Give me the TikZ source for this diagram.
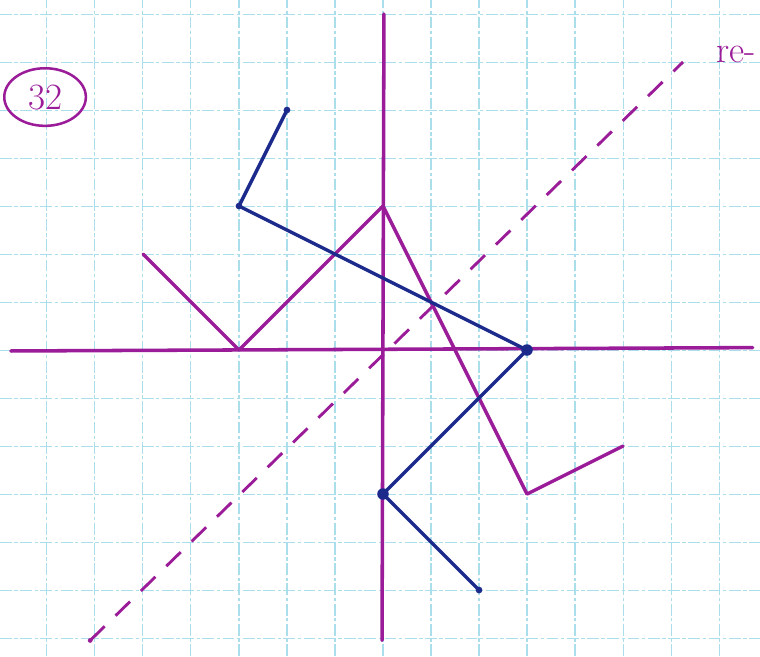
\documentclass[tikz,border=0pt]{standalone}
\usetikzlibrary{shapes.geometric}
\definecolor{pen}{HTML}{9A1C98}
\definecolor{ink}{HTML}{1C2A8C}
\definecolor{gridc}{HTML}{ABDEEB}
\begin{document}
\begin{tikzpicture}[x=1cm,y=1cm,
  gridline/.style={gridc, line width=0.6pt, dash pattern=on 7pt off 1.5pt on 2pt off 1.5pt},
  axis/.style={pen, line width=2.1pt, line cap=round},
  purp/.style={pen, line width=2pt, line cap=round, line join=round},
  blu/.style={ink, line width=2pt, line cap=round, line join=round},
  mirror/.style={pen, line width=1.7pt, dash pattern=on 12pt off 9pt},
  bigdot/.style={circle, fill=ink, inner sep=0pt, minimum size=0.24cm},
  smalldot/.style={circle, fill=ink, inner sep=0pt, minimum size=0.14cm}]
\useasboundingbox (-7.979,-6.375) rectangle (7.854,7.292);
% grid
\foreach \i in {-7,...,7} \draw[gridline] (\i,-6.375) -- (\i,7.292);
\foreach \j in {-6,...,7} \draw[gridline] (-7.979,\j) -- (7.854,\j);
% axes
\coordinate (xl) at (-7.75,-0.02);
\coordinate (xr) at (7.7,0.05);
\coordinate (yb) at (-0.02,-6.05);
\coordinate (yt) at (0.02,7.0);
\draw[axis] (xl) -- (xr);
\draw[axis] (yb) -- (yt);
% mirror line y = x
\coordinate (m1) at (-6.1,-6.05);
\coordinate (m2) at (6.25,6.0);
\draw[mirror] (m1) -- (m2);
\fill[pen] (m1) circle (0.05);
% purple figure
\coordinate (p1) at (-5,2);
\coordinate (p2) at (-3,0);
\coordinate (p3) at (0,3);
\coordinate (p4) at (3,-3);
\coordinate (p5) at (5,-2);
\draw[purp] (p1) -- (p2) -- (p3) -- (p4) -- (p5);
% blue image
\node[smalldot] (b1) at (-2,5) {};
\node[smalldot] (b2) at (-3,3) {};
\node[bigdot] (b3) at (3,0) {};
\node[bigdot] (b4) at (0,-3) {};
\node[smalldot] (b5) at (2,-5) {};
\draw[blu] (b1.center) -- (b2.center) -- (b3.center) -- (b4.center) -- (b5.center);
% labels
\node[ellipse, draw=pen, line width=1.5pt, text=pen, minimum width=1.7cm, minimum height=1.2cm, inner sep=0pt,
  font=\fontsize{22}{24}\selectfont] (num) at (-7.04,5.27) {32};
\node[anchor=base east, text=pen, inner sep=0pt, font=\fontsize{22}{24}\selectfont] (re) at (7.78,5.98) {re-};
\end{tikzpicture}
\end{document}
